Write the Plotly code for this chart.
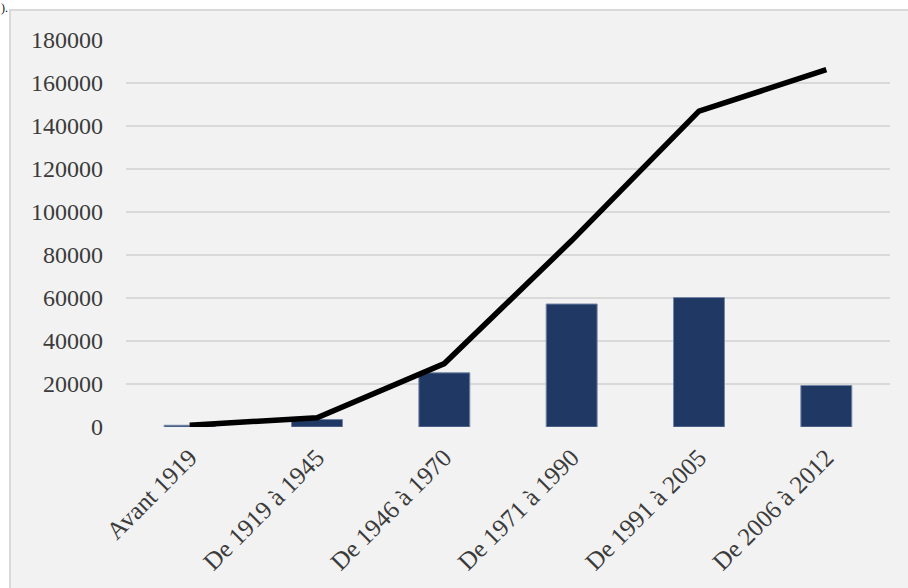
import plotly.graph_objects as go

# Periods of construction
periodes = ["Avant 1919", "De 1919 à 1945", "De 1946 à 1970",
            "De 1971 à 1990", "De 1991 à 2005", "De 2006 à 2012"]

# Units built per period (bars)
logements = [800, 3500, 25200, 57200, 60200, 19300]

# Running total across periods (line)
cumul = [800, 4300, 29500, 86700, 146900, 166200]

y_ticks = [0, 20000, 40000, 60000, 80000, 100000,
           120000, 140000, 160000, 180000]

W, H = 908, 588
L, R, T, B = 126, 18, 40, 161
pw, ph = W - L - R, H - T - B

def px_x(x):
    return (x - L) / pw

def px_y(y):
    return (H - B - y) / ph

font_family = "Liberation Serif, Times New Roman, serif"
text_color = "#3b3b3b"

fig = go.Figure()
fig.add_trace(go.Bar(
    x=periodes, y=logements, width=0.4,
    marker=dict(color="#203864", line=dict(color="#7486a6", width=1)),
    showlegend=False,
))
fig.add_trace(go.Scatter(
    x=periodes, y=cumul, mode="lines",
    line=dict(color="#000000", width=5.5),
    showlegend=False,
))

# Framed chart area
fig.add_shape(type="rect", xref="paper", yref="paper", layer="below",
              x0=px_x(10), x1=px_x(912), y0=px_y(592), y1=px_y(10),
              fillcolor="#f2f2f2", line=dict(color="#d9d9d9", width=2))

# Tail of the preceding caption line
fig.add_annotation(xref="paper", yref="paper", x=px_x(0), y=px_y(0),
                   xanchor="left", yanchor="top", showarrow=False,
                   borderpad=0,
                   text=").", font=dict(family=font_family, size=12, color="#111111"))

fig.update_layout(
    width=W, height=H,
    margin=dict(l=L, r=R, t=T, b=B, pad=0),
    paper_bgcolor="#ffffff",
    plot_bgcolor="rgba(0,0,0,0)",
    font=dict(family=font_family, size=24, color=text_color),
    bargap=0.6,
    xaxis=dict(
        type="category", tickangle=-45, showgrid=False, zeroline=False,
        showline=False, ticks="", ticklabelstandoff=10,
        tickfont=dict(family=font_family, size=25, color=text_color),
    ),
    yaxis=dict(
        range=[0, 180000], tickvals=y_ticks,
        ticktext=[str(v) for v in y_ticks],
        showgrid=True, gridcolor="#d9d9d9", gridwidth=2,
        zeroline=False, showline=False, ticks="", ticklabelstandoff=22,
        tickfont=dict(family=font_family, size=24, color=text_color),
    ),
)

fig.write_html("out.html")
